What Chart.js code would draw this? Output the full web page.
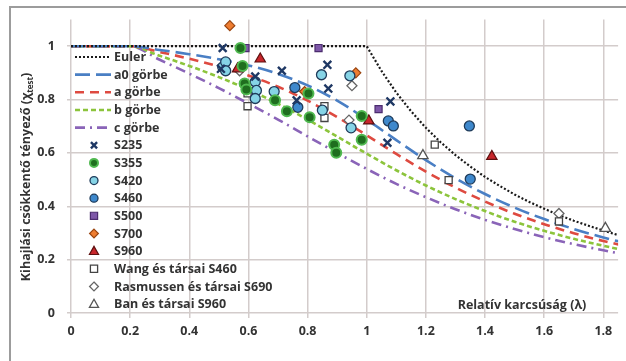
<!DOCTYPE html>
<html><head><meta charset="utf-8">
<script src="https://cdn.jsdelivr.net/npm/chart.js@4/dist/chart.umd.min.js"></script>
<style>html,body{margin:0;padding:0;background:#fff;}canvas{display:block;}</style>
</head><body>
<canvas id="c" width="626" height="361"></canvas>
<script>
// ---- Data ----
const xTickValues = [0,0.2,0.4,0.6,0.8,1,1.2,1.4,1.6,1.8];
const xTickLabels = ['0','0.2','0.4','0.6','0.8','1','1.2','1.4','1.6','1.8'];
const yTickValues = [0,0.2,0.4,0.6,0.8,1];
const yTickLabels = ['0','0.2','0.4','0.6','0.8','1'];

const curveX = [0,0.2,0.3,0.4,0.5,0.6,0.7,0.8,0.9,1.0,1.1,1.2,1.3,1.4,1.5,1.6,1.7,1.8,1.9];
const curveA0 = [1,1,0.986,0.970,0.951,0.928,0.896,0.853,0.796,0.725,0.648,0.573,0.505,0.446,0.395,0.352,0.315,0.283,0.256];
const curveA  = [1,1,0.978,0.953,0.924,0.890,0.848,0.796,0.734,0.666,0.596,0.530,0.470,0.418,0.372,0.333,0.299,0.270,0.245];
const curveB  = [1,1,0.964,0.926,0.884,0.837,0.784,0.725,0.661,0.597,0.535,0.478,0.427,0.382,0.342,0.308,0.278,0.252,0.229];
const curveC  = [1,1,0.949,0.897,0.843,0.785,0.725,0.662,0.600,0.540,0.484,0.434,0.389,0.349,0.315,0.284,0.258,0.235,0.214];

const eulerX = [0,1.0,1.05,1.1,1.15,1.2,1.25,1.3,1.35,1.4,1.45,1.5,1.55,1.6,1.65,1.7,1.75,1.8,1.85,1.9];
const eulerY = [1,1.0,0.907,0.826,0.756,0.694,0.640,0.592,0.549,0.510,0.476,0.444,0.416,0.391,0.367,0.346,0.327,0.309,0.292,0.277];

const s235X = [0.513,0.507,0.623,0.713,0.867,0.870,0.763,1.08,1.07];
const s235Y = [0.993,0.915,0.886,0.908,0.930,0.841,0.797,0.793,0.638];
const s355X = [0.573,0.58,0.587,0.593,0.69,0.73,0.803,0.807,0.89,0.897,0.983,0.983];
const s355Y = [0.993,0.926,0.86,0.838,0.797,0.756,0.823,0.734,0.631,0.601,0.738,0.649];
const s420X = [0.513,0.523,0.523,0.623,0.627,0.623,0.687,0.847,0.85,0.943,0.947];
const s420Y = [0.922,0.941,0.908,0.867,0.834,0.804,0.830,0.893,0.760,0.889,0.694];
const s460X = [0.757,0.767,1.073,1.09,1.347,1.35];
const s460Y = [0.845,0.771,0.720,0.701,0.701,0.502];
const s500X = [0.59,0.837,1.04];
const s500Y = [0.993,0.993,0.764];
const s700X = [0.537,0.79,0.963];
const s700Y = [1.077,0.83,0.90];
const s960X = [0.64,0.563,1.007,1.423];
const s960Y = [0.952,0.915,0.72,0.587];
const wangX = [0.597,0.597,0.857,0.857,1.23,1.277,1.65];
const wangY = [0.823,0.775,0.775,0.731,0.631,0.498,0.343];
const rasX = [0.57,0.95,0.94,1.65];
const rasY = [0.908,0.852,0.723,0.373];
const banX = [1.19,1.807];
const banY = [0.59,0.317];

const seriesNames = ['Euler','a0 görbe','a görbe','b görbe','c görbe','S235','S355','S420','S460','S500','S700','S960',
  'Wang és társai S460','Rasmussen és társai S690','Ban és társai S960'];
const xTitle = 'Relatív karcsúság (λ)';
const yTitleMain = 'Kihajlási csökkentő tényező (χ';
const yTitleSub = 'test';
const yTitleEnd = ')';

// ---- Build datasets ----
const pts = (xs, ys) => xs.map((x,i)=>({x:x,y:ys[i]}));
function lineDS(name, xs, ys, color, dash, width, mono){
  return {label:name, data:pts(xs,ys), showLine:true, borderColor:color, backgroundColor:color,
    borderDash:dash, borderWidth:width, pointRadius:0, fill:false, order:2,
    cubicInterpolationMode: mono ? 'monotone' : 'default', tension:0, borderCapStyle:'butt'};
}
function ptDS(name, xs, ys, style, fill, border, bw, r){
  return {label:name, data:pts(xs,ys), showLine:false, pointStyle:style, backgroundColor:fill,
    borderColor:border, pointBackgroundColor:fill, pointBorderColor:border, pointBorderWidth:bw,
    pointRadius:r, order:1};
}
const datasets = [
  lineDS(seriesNames[0], eulerX, eulerY, '#1a1a1a', [2,2], 2.2, false),
  lineDS(seriesNames[1], curveX, curveA0, '#4a7fc4', [15,6], 2.6, true),
  lineDS(seriesNames[2], curveX, curveA, '#de4a40', [9,6], 2.6, true),
  lineDS(seriesNames[3], curveX, curveB, '#8cc43c', [5,3], 2.6, true),
  lineDS(seriesNames[4], curveX, curveC, '#8a64b8', [10,5,2,5], 2.6, true),
  ptDS(seriesNames[5], s235X, s235Y, 'crossRot', '#1f3864', '#1f3864', 2.4, 5.5),
  ptDS(seriesNames[6], s355X, s355Y, 'circle', '#1f6e1f', '#4fb84f', 2, 5),
  ptDS(seriesNames[7], s420X, s420Y, 'circle', '#86d4e6', '#1f3b5a', 1.3, 5),
  ptDS(seriesNames[8], s460X, s460Y, 'circle', '#3e88cc', '#1f3b5a', 1.3, 5),
  ptDS(seriesNames[9], s500X, s500Y, 'rect', '#7e57a8', '#4b2c6e', 1.2, 5),
  ptDS(seriesNames[10], s700X, s700Y, 'rectRot', '#ee7d31', '#9a4510', 1.2, 5),
  ptDS(seriesNames[11], s960X, s960Y, 'triangle', '#c8262b', '#5e1010', 1.2, 6),
  ptDS(seriesNames[12], wangX, wangY, 'rect', '#ffffff', '#444444', 1.3, 5),
  ptDS(seriesNames[13], rasX, rasY, 'rectRot', '#ffffff', '#666666', 1.3, 5),
  ptDS(seriesNames[14], banX, banY, 'triangle', '#ffffff', '#555555', 1.3, 6),
];

const FONT = "'Open Sans', 'DejaVu Sans', sans-serif";
const TXT = '#333333';

function drawMarker(ctx, style, x, y, r, fill, stroke, bw){
  ctx.save();
  ctx.fillStyle = fill; ctx.strokeStyle = stroke; ctx.lineWidth = bw; ctx.setLineDash([]);
  ctx.beginPath();
  if (style === 'circle'){ ctx.arc(x,y,r,0,Math.PI*2); ctx.fill(); ctx.stroke(); }
  else if (style === 'rect'){ const s=r*0.9; ctx.rect(x-s,y-s,2*s,2*s); ctx.fill(); ctx.stroke(); }
  else if (style === 'rectRot'){ const s=r*1.1; ctx.moveTo(x,y-s); ctx.lineTo(x+s,y); ctx.lineTo(x,y+s); ctx.lineTo(x-s,y); ctx.closePath(); ctx.fill(); ctx.stroke(); }
  else if (style === 'triangle'){ const s=r; ctx.moveTo(x,y-s); ctx.lineTo(x+s*0.95,y+s*0.7); ctx.lineTo(x-s*0.95,y+s*0.7); ctx.closePath(); ctx.fill(); ctx.stroke(); }
  else if (style === 'crossRot'){ const s=r*0.7; ctx.moveTo(x-s,y-s); ctx.lineTo(x+s,y+s); ctx.moveTo(x+s,y-s); ctx.lineTo(x-s,y+s); ctx.stroke(); }
  ctx.restore();
}

const decor = {
  id:'decor',
  beforeDraw(chart){
    const ctx = chart.ctx;
    ctx.save();
    ctx.fillStyle = '#ffffff'; ctx.fillRect(0,0,chart.width,chart.height);
    ctx.strokeStyle = '#9c9c9c'; ctx.lineWidth = 2;
    ctx.strokeRect(10,7,700,420);
    ctx.restore();
  },
  afterDraw(chart){
    const ctx = chart.ctx;
    ctx.save();
    // legend
    const x0 = 75, x1 = 111, tx = 114; let y = 57; const step = 17.65;
    ctx.font = 'bold 12.5px ' + FONT; ctx.textBaseline = 'middle'; ctx.textAlign = 'left';
    chart.data.datasets.forEach((ds) => {
      if (ds.showLine){
        ctx.save(); ctx.strokeStyle = ds.borderColor; ctx.lineWidth = ds.borderWidth;
        ctx.setLineDash(ds.borderDash); ctx.beginPath(); ctx.moveTo(x0,y); ctx.lineTo(x1,y); ctx.stroke(); ctx.restore();
      } else {
        drawMarker(ctx, ds.pointStyle, 94, y, ds.pointRadius*0.8, ds.pointBackgroundColor, ds.pointBorderColor, ds.pointBorderWidth);
      }
      ctx.fillStyle = TXT; ctx.fillText(ds.label, tx, y+0.5);
      y += step;
    });
    // x title inside plot
    ctx.font = 'bold 12.5px ' + FONT; ctx.textAlign = 'center'; ctx.fillStyle = TXT;
    ctx.fillText(xTitle, 522, 305);
    // y title rotated with subscript
    ctx.translate(26, 177); ctx.rotate(-Math.PI/2);
    const fMain = 'bold 12.5px ' + FONT, fSub = 'bold 8px ' + FONT;
    ctx.font = fMain; const w1 = ctx.measureText(yTitleMain).width; const w3 = ctx.measureText(yTitleEnd).width;
    ctx.font = fSub; const w2 = ctx.measureText(yTitleSub).width;
    let sx = -(w1+w2+w3)/2;
    ctx.textAlign = 'left'; ctx.textBaseline = 'alphabetic';
    ctx.font = fMain; ctx.fillText(yTitleMain, sx, 4); sx += w1;
    ctx.font = fSub; ctx.fillText(yTitleSub, sx, 7); sx += w2;
    ctx.font = fMain; ctx.fillText(yTitleEnd, sx, 4);
    ctx.restore();
  }
};

new Chart(document.getElementById('c'), {
  type:'scatter',
  data:{datasets:datasets},
  options:{
    responsive:false, animation:false, devicePixelRatio:1,
    layout:{padding:{top:15,right:0,left:0,bottom:0}},
    plugins:{legend:{display:false}, tooltip:{enabled:false}},
    scales:{
      x:{type:'linear', min:0, max:1.85,
        afterBuildTicks:(s)=>{ s.ticks = xTickValues.map(v=>({value:v})); },
        afterFit:(s)=>{ s.height = 48; },
        grid:{color:'#d3cccb', lineWidth:1.5, tickLength:5, drawTicks:true},
        border:{display:false},
        ticks:{padding:6, color:TXT, font:{family:FONT, size:12.5, weight:'bold'},
          callback:(v)=>{ const i = xTickValues.findIndex(t=>Math.abs(t-v)<1e-6); return i>=0 ? xTickLabels[i] : ''; },
          maxRotation:0, autoSkip:false}
      },
      y:{type:'linear', min:0, max:1.1,
        afterBuildTicks:(s)=>{ s.ticks = yTickValues.map(v=>({value:v})); },
        afterFit:(s)=>{ s.width = 71; },
        grid:{color:'#d3cccb', lineWidth:1.5, tickLength:4, drawTicks:true},
        border:{display:false},
        ticks:{padding:12, color:TXT, font:{family:FONT, size:12.5, weight:'bold'},
          callback:(v)=>{ const i = yTickValues.findIndex(t=>Math.abs(t-v)<1e-6); return i>=0 ? yTickLabels[i] : ''; }}
      }
    }
  },
  plugins:[decor]
});
</script>
</body></html>
